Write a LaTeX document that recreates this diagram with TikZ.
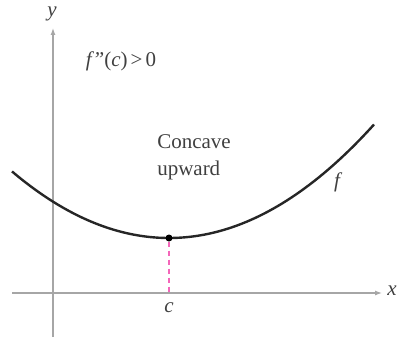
\documentclass[tikz,border=0pt]{standalone}
\usepackage{fontspec}
\setmainfont{Liberation Serif}
\usetikzlibrary{arrows.meta}
\begin{document}
\begin{tikzpicture}
[%%%%%%%%%%%%%%%%%%%%%%%%%%%%%%
x=1pt,y=-1pt,
axis/.style={draw=gray!70,line width=1.2pt,-{Latex[length=7pt,width=5pt]}},
curve/.style={draw=black!85,line width=2.4pt},
lbl/.style={font=\fontsize{21}{27}\selectfont,text=black!75},
var/.style={font=\itshape\fontsize{21}{24}\selectfont,text=black!75},
]%%%%%%%%%%%%%%%%%%%%%%%%%%%%%%
\useasboundingbox (0,0) rectangle (398,337);
\coordinate (xs) at (12,293);
\coordinate (xe) at (382,293);
\coordinate (ys) at (53,337);
\coordinate (ye) at (53,28);
\draw[axis] (xs) -- (xe);
\draw[axis] (ys) -- (ye);
\node[var] (xl) at (392,291) {x};
\node[var,inner sep=1pt] (yl) at (52,14) {y};
\draw[curve] plot[domain=12:374,samples=80] (\x,{238-0.0027*(\x-169)*(\x-169)});
\coordinate (c0) at (169,293);
\node[circle,fill=black,inner sep=0pt,minimum size=7pt] (pt) at (169,238) {};
\draw[magenta!60,line width=1.2pt,dash pattern=on 5pt off 4pt] (pt) -- (c0);
\node[var] (cl) at (169,308) {c};
\node[var] (fl) at (337,182) {f};
\node[lbl] (fpp) at (121,61) {\textit{f\kern1pt''}(\textit{c})\kern3pt>\kern3pt0};
\node[lbl,align=left] (conc) at (194,157) {Concave\\upward};
\end{tikzpicture}
\end{document}
